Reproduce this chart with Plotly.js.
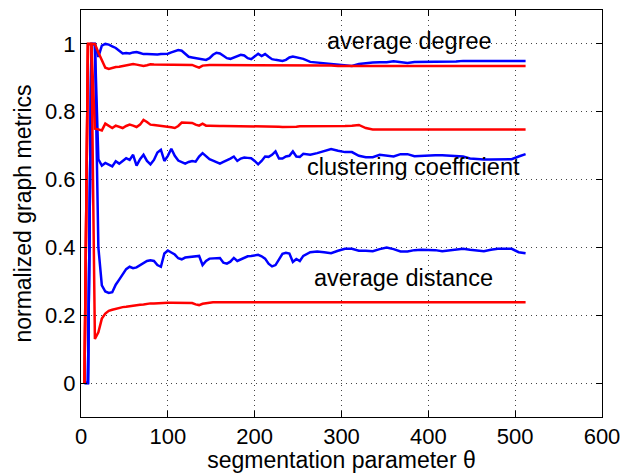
<!DOCTYPE html>
<html>
<head>
<meta charset="utf-8">
<script src="https://cdn.plot.ly/plotly-3.0.1.min.js"></script>
<style>html,body{margin:0;padding:0;background:#fff;}#chart{width:633px;height:473px;}</style>
</head>
<body>
<div id="chart"></div>
<script>
// segmentation parameter theta
var theta = [4,8,12,16,20,24,28,32,36,40,44,48,52,56,60,64,68,72,76,80,84,88,92,96,100,
104,108,112,116,120,124,128,132,136,140,144,148,152,156,160,164,168,172,176,180,184,188,192,196,200,
204,208,212,216,220,224,228,232,236,240,244,248,252,256,
264,272,280,288,296,304,312,320,328,336,344,352,360,368,376,384,392,400,408,416,424,432,440,448,456,464,472,480,488,496,504,512];

// average degree
var degreeBlue = [0,0,1.0,1.0,0.962,0.995,1.0,0.998,0.993,0.988,0.98,0.972,0.973,0.972,0.975,0.976,0.973,0.97,0.97,0.969,0.968,0.969,0.97,0.97,0.971,
0.975,0.979,0.982,0.98,0.97,0.962,0.96,0.958,0.956,0.955,0.953,0.958,0.968,0.974,0.972,0.965,0.958,0.956,0.96,0.966,0.968,0.966,0.958,0.955,0.962,
0.971,0.964,0.97,0.962,0.955,0.953,0.951,0.95,0.953,0.96,0.963,0.96,0.958,0.956,
0.947,0.945,0.943,0.94,0.938,0.936,0.935,0.941,0.944,0.945,0.946,0.946,0.949,0.947,0.944,0.947,0.947,0.946,0.946,0.946,0.946,0.948,0.95,0.95,0.949,0.948,0.948,0.948,0.949,0.95,0.95,0.95];
var degreeRed = [0,1,1,1.0,0.975,0.95,0.93,0.926,0.93,0.932,0.933,0.935,0.937,0.94,0.941,0.939,0.937,0.935,0.937,0.94,0.939,0.939,0.939,0.939,0.939,
0.939,0.939,0.939,0.939,0.939,0.939,0.938,0.934,0.93,0.936,0.938,0.938,0.938,0.938,0.938,0.938,0.938,0.938,0.938,0.938,0.938,0.938,0.938,0.938,0.938,
0.938,0.938,0.938,0.938,0.938,0.938,0.938,0.938,0.938,0.938,0.938,0.938,0.938,0.938,
0.938,0.938,0.937,0.936,0.935,0.935,0.935,0.935,0.935,0.935,0.935,0.935,0.935,0.935,0.935,0.935,0.935,0.935,0.935,0.935,0.935,0.935,0.935,0.935,0.935,0.935,0.935,0.935,0.935,0.935,0.935,0.935];

// clustering coefficient
var clusterBlue = [0,0,1,1,0.66,0.641,0.649,0.645,0.639,0.654,0.647,0.655,0.663,0.658,0.673,0.641,0.66,0.673,0.655,0.645,0.658,0.68,0.688,0.655,0.67,
0.691,0.67,0.656,0.652,0.647,0.652,0.655,0.653,0.668,0.678,0.67,0.66,0.656,0.652,0.647,0.652,0.656,0.662,0.668,0.655,0.662,0.665,0.664,0.663,0.655,
0.645,0.655,0.668,0.667,0.673,0.683,0.662,0.662,0.668,0.67,0.683,0.668,0.667,0.676,
0.673,0.678,0.685,0.69,0.685,0.681,0.681,0.67,0.666,0.666,0.673,0.671,0.668,0.675,0.675,0.669,0.67,0.673,0.672,0.672,0.671,0.67,0.668,0.662,0.66,0.659,0.659,0.659,0.659,0.66,0.668,0.675];
var clusterRed = [0,1,1,0.75,0.748,0.745,0.765,0.758,0.752,0.759,0.755,0.752,0.758,0.762,0.759,0.755,0.762,0.776,0.77,0.762,0.761,0.76,0.759,0.758,0.756,
0.754,0.752,0.758,0.768,0.768,0.768,0.767,0.762,0.759,0.765,0.759,0.759,0.758,0.758,0.758,0.758,0.758,0.758,0.758,0.758,0.758,0.758,0.758,0.758,0.758,
0.758,0.758,0.758,0.758,0.758,0.757,0.756,0.755,0.755,0.754,0.755,0.756,0.757,0.757,
0.756,0.756,0.757,0.757,0.757,0.758,0.759,0.761,0.752,0.748,0.748,0.748,0.748,0.748,0.748,0.748,0.748,0.748,0.748,0.748,0.748,0.748,0.748,0.748,0.748,0.748,0.748,0.748,0.748,0.748,0.748,0.748];

// average distance
var distBlue = [0,0,1,1,0.40,0.288,0.27,0.266,0.268,0.29,0.305,0.32,0.336,0.343,0.339,0.341,0.347,0.353,0.36,0.362,0.36,0.348,0.343,0.382,0.391,
0.385,0.379,0.368,0.365,0.37,0.371,0.372,0.372,0.375,0.348,0.36,0.367,0.368,0.369,0.369,0.355,0.352,0.358,0.369,0.36,0.365,0.37,0.374,0.375,0.377,
0.378,0.374,0.367,0.352,0.344,0.348,0.365,0.381,0.384,0.382,0.357,0.366,0.36,0.375,
0.386,0.388,0.386,0.383,0.39,0.396,0.396,0.39,0.39,0.389,0.395,0.4,0.395,0.388,0.388,0.392,0.393,0.393,0.392,0.389,0.391,0.394,0.396,0.393,0.39,0.389,0.393,0.396,0.396,0.396,0.386,0.383];
var distRed = [0,1,1,0.13,0.15,0.19,0.205,0.213,0.216,0.219,0.222,0.224,0.225,0.227,0.228,0.229,0.231,0.232,0.234,0.235,0.235,0.236,0.236,0.237,0.237,
0.237,0.237,0.237,0.237,0.237,0.237,0.236,0.232,0.23,0.234,0.236,0.237,0.238,0.238,0.238,0.238,0.238,0.238,0.238,0.238,0.238,0.238,0.238,0.238,0.238,
0.238,0.238,0.238,0.238,0.238,0.238,0.238,0.238,0.238,0.238,0.238,0.238,0.238,0.237,
0.237,0.237,0.236,0.237,0.238,0.238,0.238,0.238,0.238,0.238,0.238,0.238,0.238,0.238,0.238,0.238,0.238,0.238,0.238,0.238,0.238,0.238,0.238,0.238,0.238,0.238,0.238,0.238,0.238,0.238,0.238,0.238];

var labels = ["average degree", "clustering coefficient", "average distance"];
var labelX = [378, 383, 371];
var labelY = [1.009, 0.638, 0.309];

var BLUE = "#0000ff", RED = "#ff0000";
function tr(y, c) {
  return {x: theta, y: y, type: "scatter", mode: "lines",
          line: {color: c, width: 2.5}, hoverinfo: "skip", showlegend: false};
}
var data = [
  tr(degreeBlue, BLUE), tr(clusterBlue, BLUE), tr(distBlue, BLUE),
  tr(degreeRed, RED), tr(clusterRed, RED), tr(distRed, RED)
];

var FONT = "Liberation Sans, Arial, Helvetica, sans-serif";
var annotations = labels.map(function (t, i) {
  return {x: labelX[i], y: labelY[i], xref: "x", yref: "y", text: t, showarrow: false,
          xanchor: "center", yanchor: "middle", font: {family: FONT, size: 23.5, color: "#000"}};
});

var axisCommon = {
  showline: true, linecolor: "#000", linewidth: 1, mirror: "ticks",
  ticks: "inside", ticklen: 6, tickcolor: "#000", tickwidth: 1,
  showgrid: true, gridcolor: "#444", gridwidth: 1, griddash: "1px,4px",
  zeroline: false, tickfont: {family: FONT, size: 22, color: "#000"}
};

var layout = {
  width: 633, height: 473,
  margin: {l: 81, r: 31, t: 10, b: 56},
  paper_bgcolor: "#fff", plot_bgcolor: "#fff",
  xaxis: Object.assign({}, axisCommon, {
    range: [0, 600], tick0: 0, dtick: 100,
    title: {text: "segmentation parameter θ", font: {family: FONT, size: 23, color: "#000"}, standoff: 0}
  }),
  yaxis: Object.assign({}, axisCommon, {
    range: [-0.1, 1.1], tick0: 0, dtick: 0.2,
    title: {text: "normalized graph metrics", font: {family: FONT, size: 23, color: "#000"}, standoff: 6}
  }),
  annotations: annotations
};

Plotly.newPlot("chart", data, layout, {displayModeBar: false, staticPlot: true});
</script>
</body>
</html>
